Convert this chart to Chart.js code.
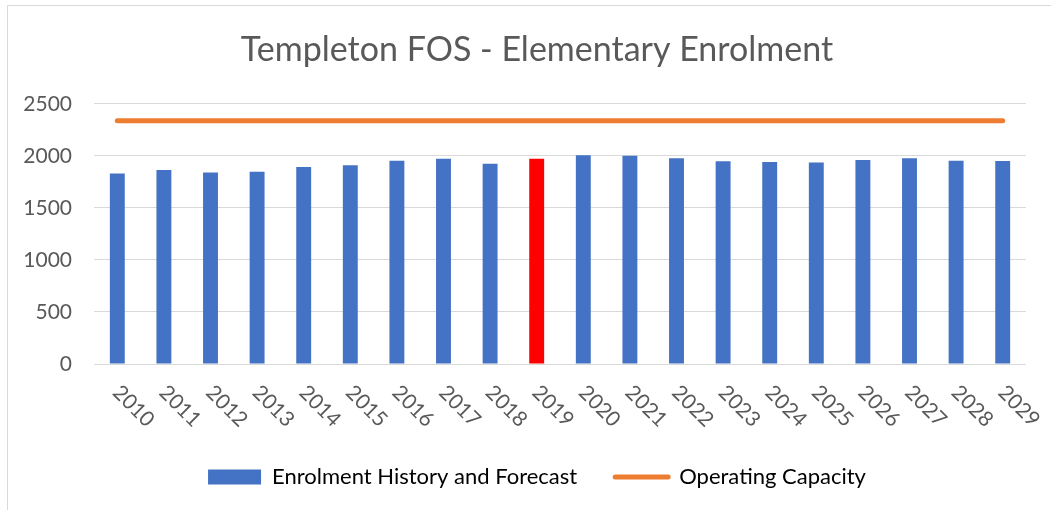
<!DOCTYPE html>
<html>
<head>
<meta charset="utf-8">
<script src="https://cdn.jsdelivr.net/npm/chart.js@4"></script>
<style>
  html, body { margin: 0; padding: 0; background: #fff; }
  #wrap { position: relative; width: 1060px; height: 510px; overflow: hidden; }
  #frame {
    position: absolute; left: 7px; top: 5px; width: 1043px; height: 520px;
    border-top: 1px solid #d9d9d9; border-left: 1px solid #d9d9d9;
  }
  #chart { position: absolute; left: 0; top: 0; }
</style>
</head>
<body>
<div id="wrap">
  <div id="frame"></div>
  <canvas id="chart" width="1060" height="510"></canvas>
</div>
<script>
// Enrolment by school year, 2019 is the current year
const years = ["2010", "2011", "2012", "2013", "2014", "2015", "2016", "2017", "2018", "2019",
               "2020", "2021", "2022", "2023", "2024", "2025", "2026", "2027", "2028", "2029"];
const enrolment = [1830, 1865, 1839, 1846, 1893, 1909, 1954, 1973, 1925, 1973,
                   2005, 2002, 1976, 1947, 1941, 1935, 1960, 1976, 1954, 1951];
const capacity = [2337, 2337, 2337, 2337, 2337, 2337, 2337, 2337, 2337, 2337,
                  2337, 2337, 2337, 2337, 2337, 2337, 2337, 2337, 2337, 2337];
const yTicks = [0, 500, 1000, 1500, 2000, 2500];

const BLUE = "#4472C4";
const RED = "#FF0000";
const ORANGE = "#ED7D31";
const TEXT = "#595959";
const FONT = "Lato, 'Open Sans', sans-serif";
const currentYear = "2019";

const barColors = years.map(y => (y === currentYear ? RED : BLUE));

// year labels slanted downward to the right, drawn under each tick
const slantedLabels = {
  id: "slantedLabels",
  afterDraw(chart) {
    const ctx = chart.ctx;
    const xs = chart.scales.x;
    const top = chart.chartArea.bottom;
    ctx.save();
    ctx.font = "21px " + FONT;
    ctx.fillStyle = TEXT;
    ctx.textAlign = "left";
    ctx.textBaseline = "middle";
    years.forEach((label, i) => {
      const x = xs.getPixelForTick(i);
      ctx.save();
      ctx.translate(x - 1, top + 25);
      ctx.rotate(Math.PI / 4);
      ctx.fillText(label, 0, 0);
      ctx.restore();
    });
    ctx.restore();
  }
};

new Chart(document.getElementById("chart").getContext("2d"), {
  data: {
    labels: years,
    datasets: [
      {
        type: "bar",
        label: "Enrolment History and Forecast",
        data: enrolment,
        backgroundColor: barColors,
        barPercentage: 0.32,
        categoryPercentage: 1,
        order: 2
      },
      {
        type: "line",
        label: "Operating Capacity",
        data: capacity,
        borderColor: ORANGE,
        borderWidth: 5,
        borderCapStyle: "round",
        pointRadius: 0,
        fill: false,
        order: 1
      }
    ]
  },
  options: {
    responsive: false,
    animation: false,
    layout: { padding: { left: 14, right: 0, top: 0, bottom: 12 } },
    plugins: {
      title: {
        display: true,
        text: "Templeton FOS - Elementary Enrolment",
        color: TEXT,
        font: { family: FONT, size: 34, weight: "normal" },
        padding: { top: 30, bottom: 33 }
      },
      legend: {
        position: "bottom",
        labels: {
          color: TEXT,
          font: { family: FONT, size: 22 },
          usePointStyle: true,
          pointStyleWidth: 53,
          boxHeight: 15,
          padding: 38,
          generateLabels: () => [
            {
              text: "Enrolment History and Forecast",
              fillStyle: BLUE, strokeStyle: BLUE, lineWidth: 0,
              pointStyle: "rect", datasetIndex: 0
            },
            {
              text: "Operating Capacity",
              fillStyle: ORANGE, strokeStyle: ORANGE, lineWidth: 5,
              lineCap: "round", pointStyle: "line", datasetIndex: 1
            }
          ]
        }
      },
      tooltip: { enabled: false }
    },
    scales: {
      x: {
        grid: { display: false },
        border: { display: false },
        ticks: { display: false },
        afterFit: s => { s.height = 64; }
      },
      y: {
        min: 0,
        max: 2500,
        afterBuildTicks: s => { s.ticks = yTicks.map(v => ({ value: v })); },
        grid: { color: "#d9d9d9", lineWidth: 1, drawTicks: false },
        border: { display: false },
        ticks: {
          color: TEXT,
          font: { family: FONT, size: 21 },
          padding: 22,
          callback: v => String(v)
        },
        afterFit: s => { s.width = 80; }
      },
      // empty right-hand margin so the plot ends short of the frame
      spacer: {
        type: "linear",
        position: "right",
        grid: { display: false },
        border: { display: false },
        ticks: { display: false },
        afterFit: s => { s.width = 34; }
      }
    }
  },
  plugins: [slantedLabels]
});
</script>
</body>
</html>
